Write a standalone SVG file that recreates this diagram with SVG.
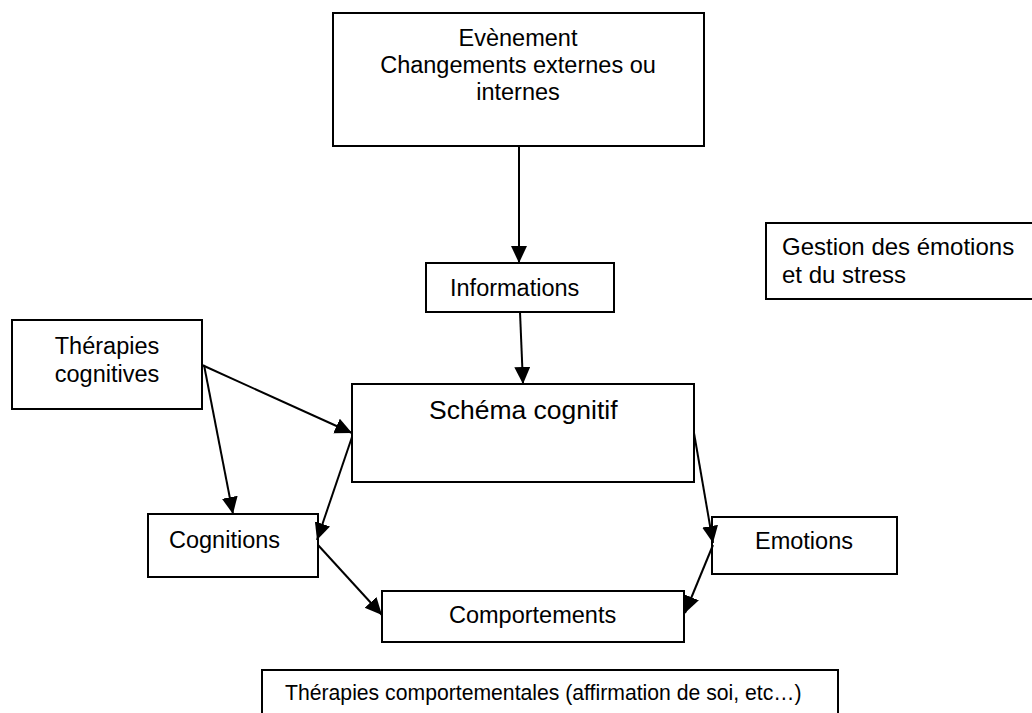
<svg xmlns="http://www.w3.org/2000/svg" width="1032" height="713" viewBox="0 0 1032 713">
<style>
.box{fill:#fff;stroke:#000;stroke-width:2}
.t{font-family:"Liberation Sans",Arial,sans-serif;font-size:23.5px;fill:#000}
.c{text-anchor:middle}
.ln{stroke:#000;stroke-width:2;fill:none;marker-end:url(#ah)}
</style>
<defs>
<marker id="ah" markerUnits="userSpaceOnUse" markerWidth="18" markerHeight="17" refX="17" refY="8" orient="auto">
<path d="M0,0 L17,8 L0,16 z" fill="#000"/>
</marker>
</defs>
<rect width="1032" height="713" fill="#fff"/>
<g id="evenement">
<rect class="box" x="333" y="13" width="371" height="133"/>
<text class="t c" x="518" y="45.5">Evènement</text>
<text class="t c" x="518" y="73">Changements externes ou</text>
<text class="t c" x="518" y="100">internes</text>
</g>
<g id="informations">
<rect class="box" x="426" y="263" width="188" height="49"/>
<text class="t" x="450" y="296">Informations</text>
</g>
<g id="gestion">
<rect class="box" x="766" y="223" width="280" height="76"/>
<text class="t" x="782" y="255" style="font-size:24px">Gestion des émotions</text>
<text class="t" x="782" y="283" style="font-size:24px">et du stress</text>
</g>
<g id="therapies-cognitives">
<rect class="box" x="12" y="320" width="190" height="89"/>
<text class="t c" x="107" y="354">Thérapies</text>
<text class="t c" x="107" y="382">cognitives</text>
</g>
<g id="schema">
<rect class="box" x="352" y="384" width="342" height="98"/>
<text class="t" x="429" y="419" style="font-size:26.5px">Schéma cognitif</text>
</g>
<g id="cognitions">
<rect class="box" x="148" y="514" width="170" height="63"/>
<text class="t" x="169" y="548">Cognitions</text>
</g>
<g id="emotions">
<rect class="box" x="712" y="517" width="185" height="57"/>
<text class="t" x="755" y="549">Emotions</text>
</g>
<g id="comportements">
<rect class="box" x="382" y="591" width="302" height="51"/>
<text class="t" x="449" y="623">Comportements</text>
</g>
<g id="therapies-comportementales">
<rect class="box" x="262" y="670" width="576" height="60"/>
<text class="t" x="285" y="700" style="font-size:21.2px">Thérapies comportementales (affirmation de soi, etc…)</text>
</g>
<g id="connectors">
<line class="ln" x1="519" y1="146" x2="519" y2="263"/>
<line class="ln" x1="520" y1="312" x2="523" y2="384"/>
<line class="ln" x1="202" y1="365" x2="352" y2="433"/>
<line class="ln" x1="204" y1="365" x2="233" y2="514"/>
<line class="ln" x1="352" y1="437" x2="317" y2="540"/>
<line class="ln" x1="318" y1="545" x2="382" y2="615"/>
<line class="ln" x1="694" y1="433" x2="713" y2="543"/>
<line class="ln" x1="713" y1="545" x2="685" y2="613"/>
</g>
</svg>
